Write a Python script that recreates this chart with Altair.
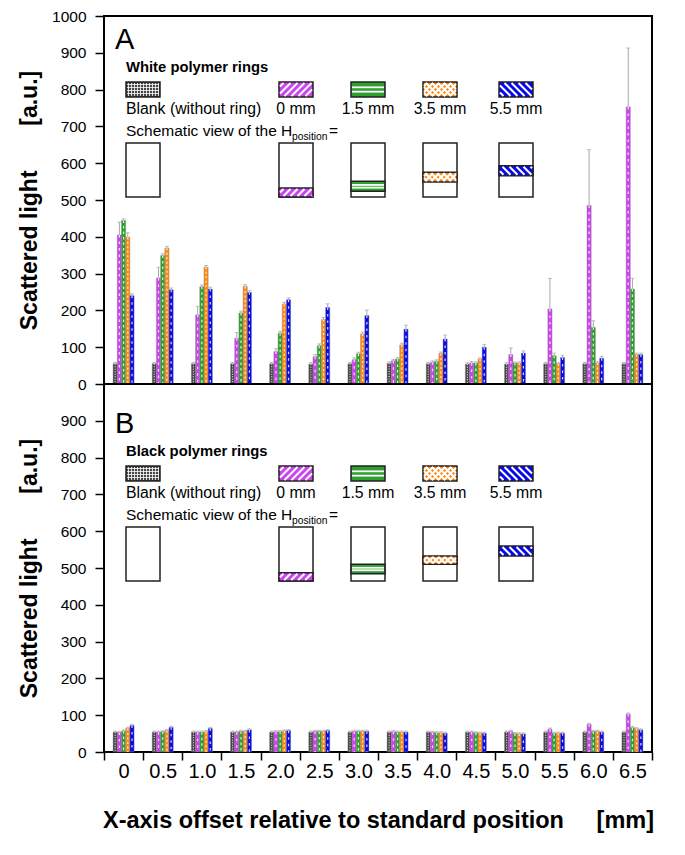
import altair as alt
import pandas as pd

categories = ["0", "0.5", "1.0", "1.5", "2.0", "2.5", "3.0", "3.5", "4.0", "4.5", "5.0", "5.5", "6.0", "6.5"]
series = ["Blank (without ring)", "0 mm", "1.5 mm", "3.5 mm", "5.5 mm"]
colors = ["#454545", "#CC44EE", "#2FA02F", "#FF8A14", "#0A0AE6"]
patterns = ["grid", "slash", "hline", "lattice", "backslash"]

# Panel A - white polymer rings
white_blank = [55, 55, 55, 55, 55, 54, 55, 56, 55, 54, 54, 55, 55, 55]
white_0 = [405, 288, 188, 124, 88, 74, 66, 63, 59, 57, 80, 204, 485, 753]
white_15 = [444, 349, 264, 193, 138, 104, 82, 68, 62, 57, 57, 77, 154, 258]
white_35 = [399, 369, 317, 265, 217, 175, 136, 106, 83, 68, 57, 55, 57, 80]
white_55 = [240, 256, 258, 249, 229, 208, 186, 149, 122, 100, 84, 72, 70, 80]
white_blank_err = [4, 4, 4, 4, 4, 4, 4, 4, 4, 4, 4, 4, 4, 4]
white_0_err = [35, 29, 23, 16, 8, 6, 5, 4, 4, 4, 18, 83, 152, 160]
white_15_err = [5, 5, 5, 5, 5, 5, 4, 4, 4, 3, 3, 7, 18, 29]
white_35_err = [12, 5, 5, 5, 5, 6, 5, 5, 4, 3, 3, 3, 4, 4]
white_55_err = [5, 5, 5, 5, 5, 10, 15, 11, 11, 7, 6, 6, 5, 4]

# Panel B - black polymer rings
black_blank = [54, 54, 54, 54, 54, 54, 54, 54, 54, 54, 54, 54, 54, 54]
black_0 = [53, 54, 54, 54, 55, 56, 56, 55, 53, 54, 56, 62, 75, 103]
black_15 = [57, 55, 54, 56, 55, 56, 56, 54, 52, 52, 50, 51, 56, 66]
black_35 = [64, 58, 55, 56, 57, 56, 56, 54, 52, 51, 49, 51, 56, 63]
black_55 = [72, 67, 64, 60, 58, 58, 56, 54, 51, 51, 49, 51, 54, 60]
black_err = [3, 3, 3, 3, 3, 3, 3, 3, 3, 3, 3, 3, 3, 3]

FONT = "Liberation Sans"
W, H = 548, 368
# empty slots either side of each bar group (spacing inside a category band)
offset_domain = ["_l1", "_l2"] + series + ["_r1", "_r2"]


def long_df(vals, errs):
    rows = []
    for s, v, e in zip(series, vals, errs):
        for c, vv, ee in zip(categories, v, e):
            rows.append({"cat": c, "series": s, "value": vv, "top": vv + ee})
    return pd.DataFrame(rows)


dfA = long_df([white_blank, white_0, white_15, white_35, white_55],
              [white_blank_err, white_0_err, white_15_err, white_35_err, white_55_err])
dfB = long_df([black_blank, black_0, black_15, black_35, black_55],
              [black_err] * 5)

# legend layout (pixels relative to the plot area)
leg_x = [22, 175, 247, 319, 395]
leg_w = 34


def hatch(kind, x0, y0, x1, y1):
    """White hatch segments inside a legend rectangle (decoration)."""
    segs = []
    x0, y0, x1, y1 = x0 + 1, y0 + 1, x1 - 1, y1 - 1
    if kind in ("slash", "lattice"):
        step = 7 if kind == "slash" else 6
        c = x0 + y0 + step / 2
        while c < x1 + y1:
            xa, xb = max(x0, c - y1), min(x1, c - y0)
            if xb > xa:
                segs.append((xa, c - xa, xb, c - xb, "white", 2))
            c += step
    if kind in ("backslash", "lattice"):
        step = 7 if kind == "backslash" else 6
        c = x0 - y1 + step / 2
        while c < x1 - y0:
            xa, xb = max(x0, y0 + c), min(x1, y1 + c)
            if xb > xa:
                segs.append((xa, xa - c, xb, xb - c, "white", 2))
            c += step
    if kind == "hline":
        h = y1 - y0
        for f in (1 / 3, 2 / 3):
            yy = y0 + h * f
            segs.append((x0, yy, x1, yy, "white", 1.8))
    if kind == "grid":
        xx = x0 + 1.5
        while xx < x1:
            segs.append((xx, y0, xx, y1, "white", 0.8))
            xx += 3
        yy = y0 + 1.5
        while yy < y1:
            segs.append((x0, yy, x1, yy, "white", 0.8))
            yy += 3
    return segs


def legend_layers(ring_title, letter, dy, bands):
    sw = pd.DataFrame({
        "x1": leg_x, "x2": [v + leg_w for v in leg_x],
        "y1": [66 + dy] * 5, "y2": [81 + dy] * 5, "fill": colors, "pat": patterns})
    box_top, box_bot = 127 + dy, 181 + dy
    boxes = pd.DataFrame({
        "x1": leg_x, "x2": [v + leg_w for v in leg_x],
        "y1": [box_top] * 5, "y2": [box_bot] * 5, "fill": ["white"] * 5, "pat": ["none"] * 5})
    bnd = pd.DataFrame({
        "x1": leg_x[1:], "x2": [v + leg_w for v in leg_x[1:]],
        "y1": [box_bot - b[1] for b in bands], "y2": [box_bot - b[0] for b in bands],
        "fill": colors[1:], "pat": patterns[1:]})
    rects = pd.concat([sw, boxes, bnd])
    rect_layer = alt.Chart(rects).mark_rect(stroke="#222222", strokeWidth=1.5).encode(
        x=alt.X("x1:Q", scale=None, axis=None), x2="x2:Q",
        y=alt.Y("y1:Q", scale=None, axis=None), y2="y2:Q",
        fill=alt.Fill("fill:N", scale=None, legend=None))
    segs = []
    for r in rects.itertuples():
        segs += hatch(r.pat, r.x1, r.y1, r.x2, r.y2)
    segdf = pd.DataFrame(segs, columns=["sx1", "sy1", "sx2", "sy2", "col", "w"])
    hatch_layer = alt.Chart(segdf).mark_rule().encode(
        x=alt.X("sx1:Q", scale=None, axis=None), y=alt.Y("sy1:Q", scale=None, axis=None),
        x2="sx2:Q", y2="sy2:Q", color=alt.Color("col:N", scale=None, legend=None),
        strokeWidth=alt.StrokeWidth("w:Q", scale=None, legend=None))
    tl = pd.DataFrame({
        "tx": [22, 22, 188, 225],
        "ty": [97.5 + dy, 119.7 + dy, 123.5 + dy, 119.7 + dy],
        "text": ["Blank (without ring)", "Schematic view of the H", "position", "="],
        "size": [15.8, 15.5, 10.3, 15.5]})
    tl_layer = alt.Chart(tl).mark_text(align="left", baseline="alphabetic", font=FONT, color="black").encode(
        x=alt.X("tx:Q", scale=None, axis=None), y=alt.Y("ty:Q", scale=None, axis=None),
        text="text:N", size=alt.Size("size:Q", scale=None, legend=None))
    tc = pd.DataFrame({
        "tx": [v + leg_w / 2 for v in leg_x[1:]],
        "ty": [97.5 + dy] * 4, "text": series[1:]})
    tc_layer = alt.Chart(tc).mark_text(align="center", baseline="alphabetic", font=FONT, fontSize=15.8,
                                       color="black").encode(
        x=alt.X("tx:Q", scale=None, axis=None), y=alt.Y("ty:Q", scale=None, axis=None), text="text:N")
    tb = pd.DataFrame({"tx": [22], "ty": [55.7 + dy], "text": [ring_title]})
    tb_layer = alt.Chart(tb).mark_text(align="left", baseline="alphabetic", font=FONT, fontSize=14.8,
                                       fontWeight="bold", color="black").encode(
        x=alt.X("tx:Q", scale=None, axis=None), y=alt.Y("ty:Q", scale=None, axis=None), text="text:N")
    tlet = pd.DataFrame({"tx": [11], "ty": [33 + dy], "text": [letter]})
    tlet_layer = alt.Chart(tlet).mark_text(align="left", baseline="alphabetic", font=FONT, fontSize=29,
                                           color="black").encode(
        x=alt.X("tx:Q", scale=None, axis=None), y=alt.Y("ty:Q", scale=None, axis=None), text="text:N")
    return [rect_layer, hatch_layer, tl_layer, tc_layer, tb_layer, tlet_layer]


y_title = "Scattered light" + "\u00a0" * 7 + "[a.u.]"
x_title = "X-axis offset relative to standard position" + "\u00a0" * 5 + "[mm]"


def panel(df, ring_title, letter, dy, bands, yvals, show_x):
    if show_x:
        xaxis = alt.Axis(title=x_title, tickBand="extent", labelAngle=0, labelFontSize=20, labelFont=FONT,
                         tickSize=8, tickWidth=1.5, tickColor="black", domain=False, labelPadding=1,
                         labelColor="black", titleFont=FONT, titleFontSize=23.5, titleFontWeight="bold",
                         titlePadding=27, titleColor="black")
    else:
        xaxis = None
    yaxis = alt.Axis(title=y_title, values=yvals, format="d", labelFontSize=15.5, labelFont=FONT,
                     labelColor="black", tickSize=9, tickWidth=1.5, tickColor="black", domain=False,
                     labelPadding=9, minExtent=53, maxExtent=53, grid=False, titleFont=FONT,
                     titleFontSize=23, titleFontWeight="bold", titlePadding=10, titleColor="black")
    x = alt.X("cat:N", sort=categories, scale=alt.Scale(paddingInner=0, paddingOuter=0), axis=xaxis)
    xo = alt.XOffset("series:N", scale=alt.Scale(domain=offset_domain, paddingInner=0, paddingOuter=0.15))
    ysc = alt.Scale(domain=[0, 1000], nice=False)
    base = alt.Chart(df)
    bars = base.mark_bar(stroke="#808080", strokeWidth=0.4).encode(
        x=x, xOffset=xo,
        y=alt.Y("value:Q", scale=ysc, axis=yaxis, stack=None),
        color=alt.Color("series:N", scale=alt.Scale(domain=series, range=colors), legend=None))
    dashes = base.mark_rule(color="white", strokeWidth=1.2, opacity=0.85).encode(
        x=x, xOffset=xo, y=alt.Y("value:Q", scale=ysc, axis=yaxis, stack=None),
        y2=alt.Y2(datum=1),
        strokeDash=alt.StrokeDash("series:N", scale=alt.Scale(
            domain=series, range=[[1, 1.5], [2.5, 4], [2.5, 3], [2, 2.5], [2.5, 4]]), legend=None))
    rules = base.mark_rule(color="#A8A8A8", strokeWidth=1).encode(
        x=x, xOffset=xo, y=alt.Y("value:Q", scale=ysc, axis=yaxis, stack=None), y2="top:Q")
    caps = base.mark_tick(orient="horizontal", size=4, thickness=1, color="#A8A8A8").encode(
        x=x, xOffset=xo, y=alt.Y("top:Q", scale=ysc, axis=yaxis, stack=None))
    layers = [bars, dashes, rules, caps] + legend_layers(ring_title, letter, dy, bands)
    return alt.layer(*layers).properties(width=W, height=H)


bandsA = [(0, 9), (5.7, 15.7), (15, 24.7), (21.3, 31.3)]
bandsB = [(0, 8.3), (7.3, 16.7), (16.7, 25), (25, 35)]

pA = panel(dfA, "White polymer rings", "A", 0, bandsA, list(range(0, 1001, 100)), False)
pB = panel(dfB, "Black polymer rings", "B", 16, bandsB, list(range(0, 901, 100)), True)

chart = alt.vconcat(pA, pB, spacing=0, bounds="flush").properties(
    padding={"left": 9, "top": 0, "right": 10, "bottom": 5}
).configure(background="white").configure_view(stroke="black", strokeWidth=2)

chart.save("out.html", embed_options={"renderer": "svg", "actions": False})
